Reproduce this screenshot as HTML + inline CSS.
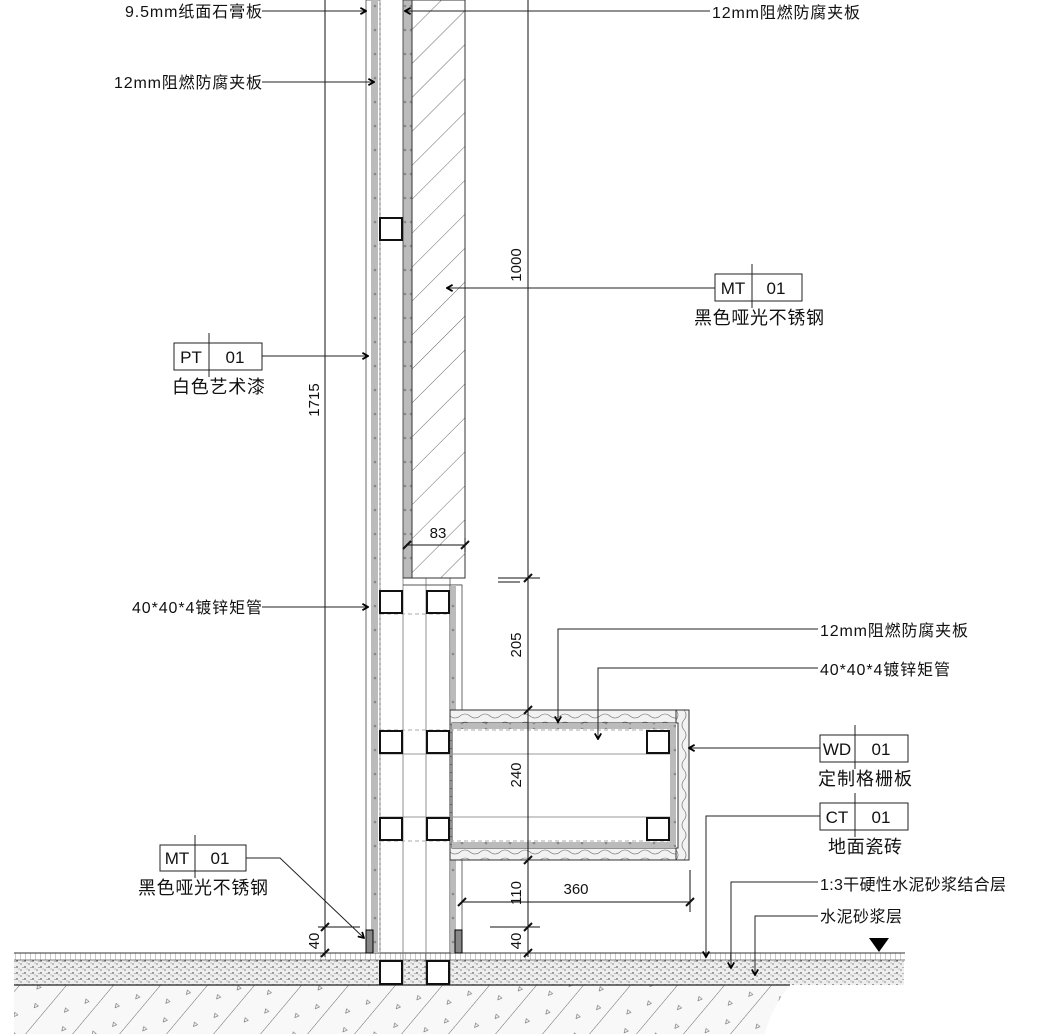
<!DOCTYPE html>
<html><head><meta charset="utf-8"><style>
html,body{margin:0;padding:0;background:#fff}
svg{display:block}
text{font-family:"Liberation Sans","Noto Sans CJK SC",sans-serif;fill:#111}
</style></head><body>
<svg width="1038" height="1034" viewBox="0 0 1038 1034" xmlns="http://www.w3.org/2000/svg">
<defs>
<pattern id="hatch" width="24" height="24" patternUnits="userSpaceOnUse" patternTransform="rotate(45)">
<line x1="0" y1="0" x2="0" y2="24" stroke="#444" stroke-width="0.8"/>
</pattern>
<pattern id="soil" width="36" height="36" patternUnits="userSpaceOnUse" patternTransform="rotate(40)">
<rect width="36" height="36" fill="#f8f8f8"/>
<line x1="0" y1="0" x2="0" y2="36" stroke="#444" stroke-width="0.8"/>
<path d="M14 10 l4 0 l-2 4z M24 26 l4 0 l-2 4z" fill="none" stroke="#666" stroke-width="0.6"/>
</pattern>
<pattern id="mortar" width="8" height="6" patternUnits="userSpaceOnUse">
<rect width="8" height="6" fill="#eee"/>
<circle cx="1" cy="1" r="0.7" fill="#222"/><circle cx="5" cy="4" r="0.6" fill="#444"/><circle cx="3" cy="3" r="0.5" fill="#777"/><circle cx="7" cy="1.5" r="0.5" fill="#555"/>
</pattern>
<pattern id="tile" width="5" height="7" patternUnits="userSpaceOnUse">
<line x1="0" y1="0" x2="0" y2="7" stroke="#555" stroke-width="0.6"/>
</pattern>
<pattern id="wood" width="20" height="8" patternUnits="userSpaceOnUse">
<rect width="20" height="8" fill="#f2f2f2"/>
<path d="M0 4 q5 -4 10 0 t10 0" fill="none" stroke="#666" stroke-width="0.6"/>
</pattern>
<pattern id="woodv" width="8" height="20" patternUnits="userSpaceOnUse">
<rect width="8" height="20" fill="#f2f2f2"/>
<path d="M4 0 q-4 5 0 10 t0 10" fill="none" stroke="#666" stroke-width="0.6"/>
</pattern>
<pattern id="band" width="6" height="24" patternUnits="userSpaceOnUse">
<rect width="6" height="24" fill="#bbb"/>
<circle cx="3" cy="6" r="1.3" fill="#888"/>
</pattern>
<pattern id="bandh" width="24" height="6" patternUnits="userSpaceOnUse">
<rect width="24" height="6" fill="#bbb"/>
<circle cx="6" cy="3" r="1.3" fill="#888"/>
</pattern>
<marker id="ar" viewBox="0 0 10 10" refX="9" refY="5" markerWidth="8" markerHeight="8" orient="auto"><path d="M2 1 L9 5 L2 9" fill="none" stroke="#000" stroke-width="2.2"/></marker>
</defs>

<path d="M14 985 L790 985 Q770 1010 765 1034 L14 1034 Z" fill="url(#soil)"/>
<rect x="14" y="960" width="890" height="25" fill="url(#mortar)"/>
<rect x="14" y="953" width="890" height="7" fill="url(#tile)"/>
<line x1="14" y1="953" x2="905" y2="953" stroke="#333" stroke-width="1"/>
<line x1="14" y1="960" x2="905" y2="960" stroke="#555" stroke-width="0.8"/>
<line x1="14" y1="985" x2="790" y2="985" stroke="#222" stroke-width="1.2"/>

<rect x="366" y="0" width="14" height="953" fill="#fff" stroke="#444" stroke-width="0.8"/>
<rect x="371" y="0" width="7" height="953" fill="url(#band)"/>
<line x1="380" y1="0" x2="380" y2="985" stroke="#999" stroke-dasharray="3 2"/>
<line x1="403" y1="578" x2="403" y2="985" stroke="#777" stroke-width="0.8"/>
<line x1="426" y1="578" x2="426" y2="985" stroke="#777" stroke-width="0.8"/>
<line x1="450" y1="578" x2="450" y2="985" stroke="#555" stroke-width="0.8"/>
<rect x="403" y="0" width="9" height="578" fill="url(#band)" stroke="#333" stroke-width="0.8"/>
<rect x="412" y="0" width="53" height="578" fill="url(#hatch)" stroke="#333" stroke-width="1"/>
<line x1="403" y1="578" x2="465" y2="578" stroke="#333"/>
<line x1="403" y1="585" x2="462" y2="585" stroke="#555"/>
<rect x="450" y="585" width="12" height="125" fill="#fff" stroke="#444" stroke-width="0.8"/>
<rect x="451" y="585" width="5" height="125" fill="url(#band)"/>
<rect x="450" y="860" width="12" height="93" fill="#fff" stroke="#444" stroke-width="0.8"/>
<rect x="451" y="860" width="5" height="93" fill="url(#band)"/>
<rect x="366" y="930" width="7" height="23" fill="#888" stroke="#000"/>
<rect x="455" y="930" width="7" height="23" fill="#888" stroke="#000"/>

<rect x="450" y="710" width="239" height="150" fill="url(#wood)" stroke="#333" stroke-width="1"/>
<rect x="676" y="710" width="13" height="150" fill="url(#woodv)" stroke="#333"/>
<rect x="452" y="723" width="226" height="125" fill="#fff" stroke="#333"/>
<rect x="452" y="723" width="224" height="6" fill="url(#bandh)"/>
<rect x="452" y="842" width="224" height="6" fill="url(#bandh)"/>
<rect x="670" y="723" width="6" height="125" fill="url(#band)"/>
<line x1="380" y1="730" x2="670" y2="730" stroke="#aaa" stroke-dasharray="4 3"/>
<line x1="380" y1="754" x2="670" y2="754" stroke="#999"/>
<line x1="380" y1="817" x2="670" y2="817" stroke="#999"/>
<line x1="380" y1="841" x2="670" y2="841" stroke="#aaa" stroke-dasharray="4 3"/>
<line x1="380" y1="614" x2="450" y2="614" stroke="#aaa" stroke-dasharray="4 3"/>

<g fill="#fff" stroke="#111" stroke-width="2">
<rect x="380" y="218" width="22" height="22"/>
<rect x="380" y="591" width="22" height="22"/><rect x="427" y="591" width="22" height="22"/>
<rect x="380" y="731" width="22" height="22"/><rect x="427" y="731" width="22" height="22"/>
<rect x="380" y="818" width="22" height="22"/><rect x="427" y="818" width="22" height="22"/>
<rect x="647" y="731" width="22" height="22"/><rect x="647" y="818" width="22" height="22"/>
<rect x="380" y="961" width="22" height="23"/><rect x="427" y="961" width="22" height="23"/>
</g>

<g stroke="#111" stroke-width="1" fill="none">
<line x1="325" y1="0" x2="325" y2="957"/>
<line x1="528" y1="0" x2="528" y2="957"/>
<line x1="318" y1="927" x2="360" y2="927"/>
<line x1="498" y1="578" x2="540" y2="578"/>
<line x1="498" y1="582" x2="520" y2="582"/>
<line x1="490" y1="927" x2="540" y2="927"/>
<line x1="462" y1="902" x2="690" y2="902"/>
<line x1="690" y1="870" x2="690" y2="912"/>
<line x1="407" y1="545" x2="465" y2="545"/>
<line x1="465" y1="538" x2="465" y2="552"/>
<g stroke-width="2">
<line x1="321" y1="931" x2="329" y2="923"/><line x1="321" y1="957" x2="329" y2="949"/>
<line x1="524" y1="582" x2="532" y2="574"/><line x1="524" y1="714" x2="532" y2="706"/>
<line x1="524" y1="864" x2="532" y2="856"/><line x1="524" y1="931" x2="532" y2="923"/>
<line x1="524" y1="957" x2="532" y2="949"/><line x1="458" y1="906" x2="466" y2="898"/>
<line x1="686" y1="906" x2="694" y2="898"/><line x1="403" y1="549" x2="411" y2="541"/>
<line x1="461" y1="549" x2="469" y2="541"/>
</g>
</g>
<g font-size="15">
<text transform="translate(521 265) rotate(-90)" text-anchor="middle">1000</text>
<text transform="translate(319 400) rotate(-90)" text-anchor="middle">1715</text>
<text transform="translate(521 645) rotate(-90)" text-anchor="middle">205</text>
<text transform="translate(521 775) rotate(-90)" text-anchor="middle">240</text>
<text transform="translate(521 893) rotate(-90)" text-anchor="middle">110</text>
<text transform="translate(521 941) rotate(-90)" text-anchor="middle">40</text>
<text transform="translate(319 941) rotate(-90)" text-anchor="middle">40</text>
<text x="576" y="894" text-anchor="middle">360</text>
<text x="438" y="538" text-anchor="middle">83</text>
</g>

<g stroke="#222" stroke-width="1" fill="none" marker-end="url(#ar)">
<line x1="262" y1="11" x2="366" y2="11"/>
<line x1="262" y1="82" x2="374" y2="82"/>
<line x1="710" y1="11" x2="405" y2="11"/>
<line x1="715" y1="288" x2="447" y2="288"/>
<line x1="262" y1="356" x2="368" y2="356"/>
<line x1="262" y1="607" x2="368" y2="607"/>
<polyline points="818,629 558,629 558,722"/>
<polyline points="818,668 598,668 598,739"/>
<line x1="820" y1="748" x2="689" y2="748"/>
<polyline points="820,816 706,816 706,957"/>
<polyline points="818,882 731,882 731,968"/>
<polyline points="818,916 755,916 755,975"/>
<polyline points="246,858 280,858 364,938"/>
</g>

<g stroke="#222" stroke-width="1" fill="#fff">
<rect x="715" y="274" width="87" height="27"/><line x1="752" y1="264" x2="752" y2="308"/>
<rect x="174" y="343" width="88" height="27"/><line x1="209" y1="333" x2="209" y2="377"/>
<rect x="820" y="735" width="88" height="27"/><line x1="855" y1="725" x2="855" y2="769"/>
<rect x="820" y="803" width="88" height="27"/><line x1="855" y1="793" x2="855" y2="837"/>
<rect x="160" y="845" width="86" height="26"/><line x1="195" y1="835" x2="195" y2="878"/>
</g>
<g font-size="17">
<text x="733" y="294" text-anchor="middle">MT</text><text x="776" y="294" text-anchor="middle">01</text>
<text x="191" y="363" text-anchor="middle">PT</text><text x="235" y="363" text-anchor="middle">01</text>
<text x="837" y="755" text-anchor="middle">WD</text><text x="881" y="755" text-anchor="middle">01</text>
<text x="837" y="823" text-anchor="middle">CT</text><text x="881" y="823" text-anchor="middle">01</text>
<text x="177" y="864" text-anchor="middle">MT</text><text x="220" y="864" text-anchor="middle">01</text>
</g>
<g font-size="18">
<text x="694" y="324" textLength="130">黑色哑光不锈钢</text>
<text x="172" y="393" textLength="93">白色艺术漆</text>
<text x="818" y="785" textLength="94">定制格栅板</text>
<text x="828" y="853" textLength="74">地面瓷砖</text>
<text x="138" y="894" textLength="130">黑色哑光不锈钢</text>
</g>
<g font-size="16">
<text x="262" y="17" text-anchor="end" textLength="137">9.5mm纸面石膏板</text>
<text x="262" y="88" text-anchor="end" textLength="148">12mm阻燃防腐夹板</text>
<text x="712" y="18" textLength="148">12mm阻燃防腐夹板</text>
<text x="262" y="613" text-anchor="end" textLength="130">40*40*4镀锌矩管</text>
<text x="820" y="636" textLength="148">12mm阻燃防腐夹板</text>
<text x="820" y="675" textLength="130">40*40*4镀锌矩管</text>
<text x="820" y="890" textLength="186">1:3干硬性水泥砂浆结合层</text>
<text x="820" y="922" textLength="82">水泥砂浆层</text>
</g>
<path d="M869 938 L889 938 L879 952 Z" fill="#000"/>
</svg>
</body></html>
